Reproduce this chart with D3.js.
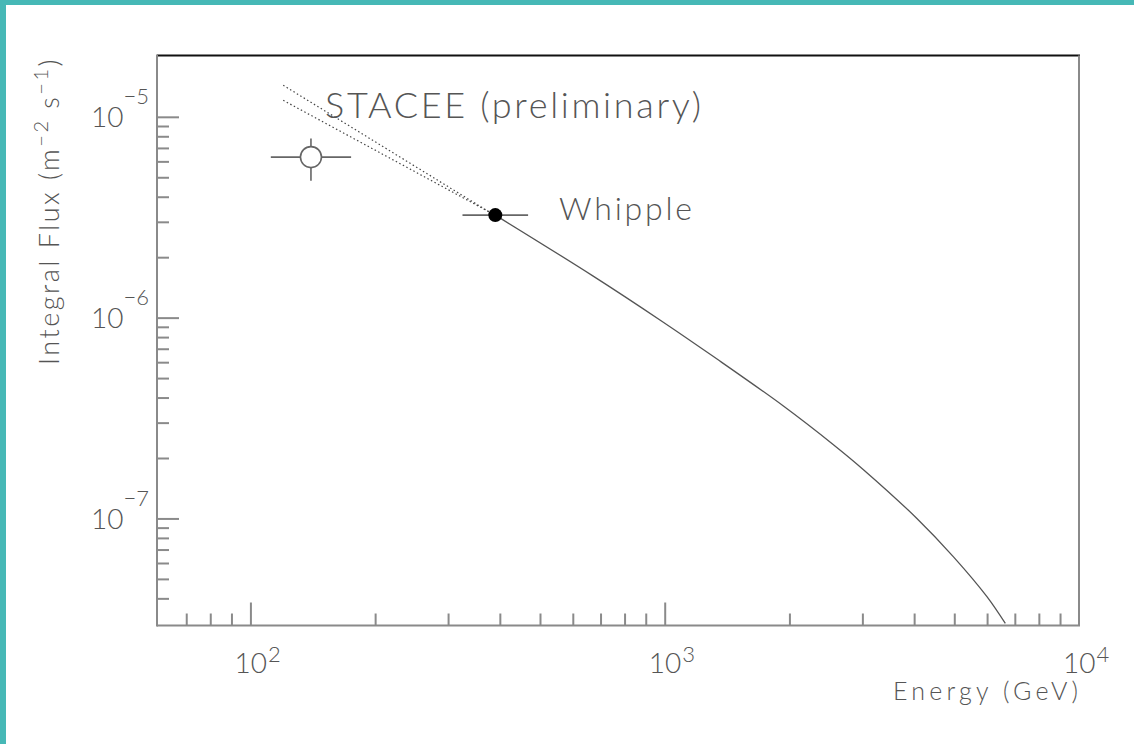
<!DOCTYPE html>
<html>
<head>
<meta charset="utf-8">
<script src="https://cdn.jsdelivr.net/npm/d3@7"></script>
<style>
  html, body { margin: 0; padding: 0; background: #fff; }
  svg { display: block; }
  text { font-family: Lato, "Open Sans", sans-serif; font-weight: 300; fill: #555; }
</style>
</head>
<body>
<svg id="chart" width="1134" height="744"></svg>
<script>
// ---------- data ----------
const xMajorTicks = [100, 1000, 10000];
const xMajorExponents = ["2", "3", "4"];
const yMajorTicks = [1e-5, 1e-6, 1e-7];
const yMajorExponents = ["\u22125", "\u22126", "\u22127"];

// fitted spectrum (solid)
const curveEnergy = [390, 672, 984, 1311, 1934, 2554, 3018, 4062, 4978, 5995, 6640];
const curveFlux   = [3.24e-6, 1.61e-6, 9.6e-7, 6.4e-7, 3.63e-7, 2.33e-7, 1.75e-7, 1.0e-7, 6.44e-8, 4.08e-8, 3.0e-8];

// dotted extrapolations (two power laws meeting at the Whipple point)
const dottedUpperEnergy = [120, 378];
const dottedUpperFlux   = [1.436e-5, 3.35e-6];
const dottedLowerEnergy = [120, 378];
const dottedLowerFlux   = [1.208e-5, 3.35e-6];

// measured points
const pointNames   = ["STACEE", "Whipple"];
const pointEnergy  = [140, 390];
const pointEnergyLo = [112, 325];
const pointEnergyHi = [175, 468];
const pointFlux    = [6.3e-6, 3.24e-6];
const pointFluxLo  = [4.8e-6, 3.24e-6];
const pointFluxHi  = [7.8e-6, 3.24e-6];

// ---------- layout ----------
const svg = d3.select("#chart");
const L = 157, R = 1079, T = 55.5, B = 625.5;
const x = d3.scaleLog().domain([59.5, 10000]).range([L, R]);
const y = d3.scaleLog().domain([2.93e-8, 2.02e-5]).range([B, T]);

// teal border
svg.append("rect").attr("x", 0).attr("y", 0).attr("width", 1134).attr("height", 5).attr("fill", "#46b8b6");
svg.append("rect").attr("x", 0).attr("y", 0).attr("width", 6).attr("height", 744).attr("fill", "#46b8b6");

// clip
svg.append("clipPath").attr("id", "plotclip")
  .append("rect").attr("x", L).attr("y", T).attr("width", R - L).attr("height", B - T);

// frame
svg.append("line").attr("x1", L).attr("x2", R + 1).attr("y1", T).attr("y2", T)
  .attr("stroke", "#111").attr("stroke-width", 2);
svg.append("line").attr("x1", R).attr("x2", R).attr("y1", T).attr("y2", B)
  .attr("stroke", "#8a8a8a").attr("stroke-width", 2);

// minor/major ticks via d3 axis (inside)
const xMinor = [];
[10, 100, 1000].forEach(d => { for (let k = 2; k <= 9; k++) xMinor.push(d * k); });
const xMinorIn = xMinor.filter(v => x(v) > L + 2 && x(v) < R - 1);
const yMinor = [];
[1e-8, 1e-7, 1e-6].forEach(d => { for (let k = 2; k <= 9; k++) yMinor.push(d * k); });
const yMinorIn = yMinor.filter(v => y(v) < B - 3 && v < 1e-5);

function styleAxis(g) {
  g.select(".domain").remove();
  g.selectAll(".tick line").attr("stroke", "#8a8a8a").attr("stroke-width", 2);
  g.selectAll(".tick text").remove();
}
svg.append("g").attr("transform", `translate(0,${B})`)
  .call(d3.axisTop(x).tickValues(xMinorIn).tickSizeOuter(0).tickSizeInner(12).tickFormat(() => ""))
  .call(styleAxis);
svg.append("g").attr("transform", `translate(0,${B})`)
  .call(d3.axisTop(x).tickValues(xMajorTicks.filter(v => v < 10000)).tickSizeOuter(0).tickSizeInner(23).tickFormat(() => ""))
  .call(styleAxis);
svg.append("g").attr("transform", `translate(${L},0)`)
  .call(d3.axisRight(y).tickValues(yMinorIn).tickSizeOuter(0).tickSizeInner(12).tickFormat(() => ""))
  .call(styleAxis);
svg.append("g").attr("transform", `translate(${L},0)`)
  .call(d3.axisRight(y).tickValues(yMajorTicks).tickSizeOuter(0).tickSizeInner(22).tickFormat(() => ""))
  .call(styleAxis);

// axis lines
svg.append("line").attr("x1", L).attr("x2", R + 1).attr("y1", B).attr("y2", B)
  .attr("stroke", "#8a8a8a").attr("stroke-width", 2);
svg.append("line").attr("x1", L).attr("x2", L).attr("y1", T - 1).attr("y2", B + 1)
  .attr("stroke", "#8a8a8a").attr("stroke-width", 2);

// x tick labels
xMajorTicks.forEach((v, i) => {
  const t = svg.append("text").attr("x", x(v) - 16).attr("y", B + 47).attr("font-size", 28);
  t.append("tspan").text("10");
  t.append("tspan").attr("dx", 1).attr("dy", -11).attr("font-size", 22).text(xMajorExponents[i]);
});
// y tick labels
yMajorTicks.forEach((v, i) => {
  const t = svg.append("text").attr("x", 149).attr("y", y(v) + 10.5)
    .attr("text-anchor", "end").attr("font-size", 28);
  t.append("tspan").text("10");
  t.append("tspan").attr("dy", -23).attr("font-size", 22).text(yMajorExponents[i]);
});

// axis titles
svg.append("text").attr("x", 1078).attr("y", 700).attr("text-anchor", "end")
  .attr("font-size", 25).attr("textLength", 185).attr("lengthAdjust", "spacing")
  .text("Energy (GeV)");

const yt = svg.append("text").attr("transform", "translate(59,57) rotate(-90)")
  .attr("text-anchor", "end").attr("font-size", 27);
yt.append("tspan").text("Integral Flux (m");
yt.append("tspan").attr("dy", -11).attr("font-size", 20).text("\u22122");
yt.append("tspan").attr("dy", 11).text(" s");
yt.append("tspan").attr("dy", -11).attr("font-size", 20).text("\u22121");
yt.append("tspan").attr("dy", 11).text(")");
// stretch letter spacing so the title spans the same length as in the reference
{
  const natural = yt.node().getComputedTextLength();
  const nChars = "Integral Flux (m-2 s-1)".length;
  const target = 308;
  yt.attr("letter-spacing", ((target - natural) / nChars).toFixed(2));
}

// ---------- marks ----------
const plot = svg.append("g").attr("clip-path", "url(#plotclip)");
const line = d3.line().x(d => x(d[0])).y(d => y(d[1]));

plot.append("path")
  .datum(dottedUpperEnergy.map((e, i) => [e, dottedUpperFlux[i]]))
  .attr("d", line).attr("fill", "none").attr("stroke", "#444").attr("stroke-width", 1.2)
  .attr("stroke-dasharray", "1.5,2.5");
plot.append("path")
  .datum(dottedLowerEnergy.map((e, i) => [e, dottedLowerFlux[i]]))
  .attr("d", line).attr("fill", "none").attr("stroke", "#444").attr("stroke-width", 1.2)
  .attr("stroke-dasharray", "1.5,2.5");

plot.append("path")
  .datum(curveEnergy.map((e, i) => [e, curveFlux[i]]))
  .attr("d", d3.line().x(d => x(d[0])).y(d => y(d[1])).curve(d3.curveCatmullRom.alpha(0.5)))
  .attr("fill", "none").attr("stroke", "#555").attr("stroke-width", 1.3);

// error bars
pointNames.forEach((n, i) => {
  plot.append("line").attr("x1", x(pointEnergyLo[i])).attr("x2", x(pointEnergyHi[i]))
    .attr("y1", y(pointFlux[i])).attr("y2", y(pointFlux[i]))
    .attr("stroke", "#666").attr("stroke-width", 1.6);
  if (pointFluxHi[i] !== pointFluxLo[i]) {
    plot.append("line").attr("x1", x(pointEnergy[i])).attr("x2", x(pointEnergy[i]))
      .attr("y1", y(pointFluxLo[i])).attr("y2", y(pointFluxHi[i]))
      .attr("stroke", "#666").attr("stroke-width", 1.6);
  }
});
// STACEE open circle
plot.append("circle").attr("cx", x(pointEnergy[0])).attr("cy", y(pointFlux[0])).attr("r", 10.5)
  .attr("fill", "#fff").attr("stroke", "#666").attr("stroke-width", 1.6);
// Whipple filled circle
plot.append("circle").attr("cx", x(pointEnergy[1])).attr("cy", y(pointFlux[1])).attr("r", 7)
  .attr("fill", "#000");

// annotations
svg.append("text").attr("x", 325).attr("y", 118).attr("font-size", 36)
  .attr("textLength", 376).attr("lengthAdjust", "spacing").text("STACEE (preliminary)");
svg.append("text").attr("x", 559).attr("y", 220).attr("font-size", 32)
  .attr("textLength", 133).attr("lengthAdjust", "spacing").text("Whipple");
</script>
</body>
</html>
